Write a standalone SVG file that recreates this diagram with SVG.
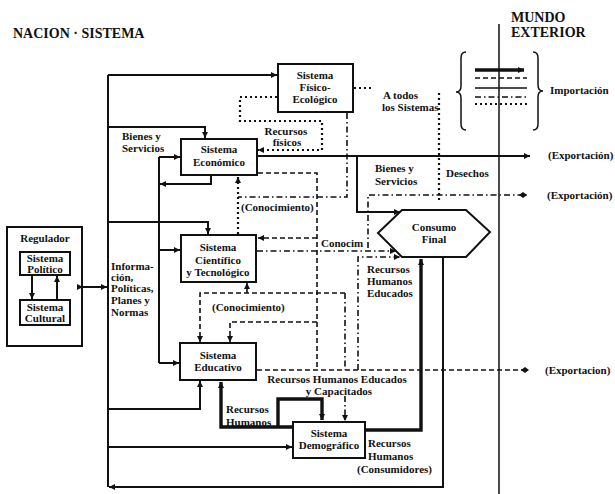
<svg xmlns="http://www.w3.org/2000/svg" width="615" height="494" viewBox="0 0 615 494">
  <defs>
    <style>
      .t { font-family: "Liberation Serif", "Times New Roman", serif; font-weight: bold; font-size: 11px; fill: #111; }
      .c { text-anchor: middle; }
      .title { font-size: 14px; }
      .box { fill: #fff; stroke: #111; stroke-width: 2; }
      .s { fill: none; stroke: #111; stroke-width: 2; }
      .thin { fill: none; stroke: #111; stroke-width: 1.5; }
      .thk { fill: none; stroke: #111; stroke-width: 3.4; }
      .d { fill: none; stroke: #111; stroke-width: 1.6; stroke-dasharray: 5 3; }
      .dd { fill: none; stroke: #111; stroke-width: 1.6; stroke-dasharray: 6 3 1.5 3; }
      .dt { fill: none; stroke: #111; stroke-width: 2.2; stroke-dasharray: 2 3; }
    </style>
    <marker id="arr" viewBox="0 0 6 6" refX="6" refY="3" markerWidth="6" markerHeight="6" markerUnits="userSpaceOnUse" orient="auto">
      <path d="M0,0 L6,3 L0,6 z" fill="#111"/>
    </marker>
    <marker id="dia" viewBox="0 0 8 6" refX="8" refY="3" markerWidth="8" markerHeight="6" markerUnits="userSpaceOnUse" orient="auto">
      <path d="M0,3 L4,0 L8,3 L4,6 z" fill="#111"/>
    </marker>
  </defs>

  <rect width="615" height="494" fill="#fff"/>

  <!-- headings -->
  <text class="t title" x="13" y="38">NACION · SISTEMA</text>
  <text class="t title" x="511" y="22">MUNDO</text>
  <text class="t title" x="511" y="37">EXTERIOR</text>

  <!-- boundary between the nation and the outside world -->
  <line class="thin" x1="499" y1="24" x2="499" y2="494"/>

  <!-- import legend -->
  <g id="importacion">
    <path class="thin" d="M466,52 Q461,52 461,58 L461,86 Q461,92 456,92 Q461,92 461,98 L461,124 Q461,130 466,130"/>
    <path class="thin" d="M533,52 Q538,52 538,58 L538,85 Q538,91 543,91 Q538,91 538,97 L538,124 Q538,130 533,130"/>
    <line class="thk" x1="475" y1="70" x2="524" y2="70" marker-end="url(#arr)"/>
    <line class="d" x1="475" y1="78" x2="527" y2="78"/>
    <line class="thin" x1="475" y1="88" x2="527" y2="88"/>
    <line class="dd" x1="475" y1="97" x2="527" y2="97"/>
    <line class="dt" x1="475" y1="104" x2="527" y2="104"/>
    <text class="t" x="550" y="94">Importación</text>
  </g>

  <!-- regulator frame (its inner systems are drawn above the connectors) -->
  <g id="regulador">
    <rect class="box" x="7" y="227" width="75" height="119"/>
    <text class="t c" x="45" y="242">Regulador</text>
  </g>

  <!-- connectors -->
  <g id="connectors">
    <!-- information bus of the regulator -->
    <line class="s" x1="108" y1="75" x2="108" y2="487"/>
    <line class="s" x1="159" y1="157" x2="159" y2="363"/>
    <path class="s" d="M83,287 H107" marker-start="url(#arr)" marker-end="url(#arr)"/>
    <path class="s" d="M108,75 H277" marker-end="url(#arr)"/>
    <path class="s" d="M108,127 H205 V138" marker-end="url(#arr)"/>
    <path class="s" d="M159,157 H180" marker-end="url(#arr)"/>
    <path class="s" d="M211,176 V184 H160" marker-end="url(#arr)"/>
    <path class="s" d="M108,222 H208 V234" marker-end="url(#arr)"/>
    <path class="s" d="M159,250 H180" marker-end="url(#arr)"/>
    <path class="s" d="M159,363 H179" marker-end="url(#arr)"/>
    <path class="s" d="M108,409 H200 V381" marker-end="url(#arr)"/>
    <path class="s" d="M108,447 H292" marker-end="url(#arr)"/>
    <path class="s" d="M443,258 V487 H109" marker-end="url(#arr)"/>

    <!-- regulator internals -->
    <path class="s" d="M32,275 V299" marker-end="url(#arr)"/>
    <path class="s" d="M57,300 V276" marker-end="url(#arr)"/>

    <!-- goods and services -->
    <path class="s" d="M258,156 H530" marker-end="url(#arr)"/>
    <path class="s" d="M357,156 V212 H400" marker-end="url(#arr)"/>

    <!-- physical resources -->
    <path class="dt" d="M277,97 H240 V121 H322 V150 H258" marker-end="url(#arr)"/>
    <path class="dt" d="M354,88 H372"/>
    <path class="dt" d="M439,93 V200"/>
    <path class="dd" d="M347,113 V197 H238"/>
    <path class="dt" d="M238,234 V177" marker-end="url(#arr)"/>

    <!-- knowledge -->
    <path class="d" d="M258,173 H317 V370"/>
    <path class="d" d="M317,238 H258" marker-end="url(#arr)"/>
    <path class="dd" d="M257,251 H396" marker-end="url(#arr)"/>
    <path class="dd" d="M368,248 V195 H527" marker-end="url(#dia)"/>
    <path class="d" d="M345,293 H200 V342" marker-end="url(#arr)"/>
    <path class="d" d="M247,293 V283" marker-end="url(#arr)"/>
    <path class="d" d="M317,322 H230 V342" marker-end="url(#arr)"/>

    <!-- educated human resources -->
    <path class="d" d="M257,370 H529" marker-end="url(#dia)"/>
    <path class="dd" d="M345,293 V370"/>
    <path class="dd" d="M345,396 V421" marker-end="url(#arr)"/>
    <path class="dd" d="M358,370 V257 H400" marker-end="url(#arr)"/>

    <!-- human resources -->
    <path class="thk" d="M293,427 H221 V382" marker-end="url(#arr)"/>
    <path class="thk" d="M278,427 V399 H322 V420" marker-end="url(#arr)"/>
    <path class="thk" d="M366,430 H421 V259" marker-end="url(#arr)"/>
  </g>

  <!-- systems -->
  <g id="sistema-politico">
    <rect class="box" x="20" y="252" width="50" height="23"/>
    <text class="t c" x="45" y="262">Sistema</text>
    <text class="t c" x="45" y="273">Político</text>
  </g>
  <g id="sistema-cultural">
    <rect class="box" x="20" y="300" width="50" height="25"/>
    <text class="t c" x="45" y="311">Sistema</text>
    <text class="t c" x="45" y="322">Cultural</text>
  </g>
  <g id="sistema-fisico">
    <rect class="box" x="278" y="64" width="75" height="48"/>
    <text class="t c" x="315" y="79">Sistema</text>
    <text class="t c" x="315" y="91">Físico-</text>
    <text class="t c" x="315" y="103">Ecológico</text>
  </g>
  <g id="sistema-economico">
    <rect class="box" x="181" y="139" width="76" height="36"/>
    <text class="t c" x="219" y="153">Sistema</text>
    <text class="t c" x="219" y="166">Económico</text>
  </g>
  <g id="sistema-cientifico">
    <rect class="box" x="181" y="235" width="75" height="47"/>
    <text class="t c" x="218" y="251">Sistema</text>
    <text class="t c" x="218" y="264">Científico</text>
    <text class="t c" x="218" y="276">y Tecnológico</text>
  </g>
  <g id="sistema-educativo">
    <rect class="box" x="180" y="343" width="76" height="37"/>
    <text class="t c" x="218" y="359">Sistema</text>
    <text class="t c" x="218" y="371">Educativo</text>
  </g>
  <g id="sistema-demografico">
    <rect class="box" x="293" y="422" width="72" height="36"/>
    <text class="t c" x="329" y="437">Sistema</text>
    <text class="t c" x="329" y="449">Demográfico</text>
  </g>
  <g id="consumo-final">
    <polygon class="box" points="378,233 402,210 466,210 490,232 466,257 402,257"/>
    <text class="t c" x="434" y="231">Consumo</text>
    <text class="t c" x="434" y="243">Final</text>
  </g>

  <!-- flow labels -->
  <g id="labels">
    <text class="t" x="111" y="270">Informa-</text>
    <text class="t" x="111" y="281">ción,</text>
    <text class="t" x="111" y="292">Políticas,</text>
    <text class="t" x="111" y="304">Planes y</text>
    <text class="t" x="111" y="316">Normas</text>

    <text class="t" x="122" y="140">Bienes y</text>
    <text class="t" x="122" y="152">Servicios</text>

    <text class="t c" x="286" y="135">Recursos</text>
    <text class="t c" x="287" y="146">físicos</text>

    <text class="t" x="383" y="99">A todos</text>
    <text class="t" x="382" y="111">los Sistemas</text>

    <text class="t" x="375" y="172">Bienes y</text>
    <text class="t" x="375" y="185">Servicios</text>
    <text class="t" x="446" y="177">Desechos</text>

    <text class="t" x="548" y="159">(Exportación)</text>
    <text class="t" x="547" y="199">(Exportación)</text>
    <text class="t" x="545" y="374">(Exportacion)</text>

    <text class="t" x="241" y="211">(Conocimiento)</text>
    <text class="t" x="321" y="247">Conocim</text>
    <text class="t" x="212" y="311">(Conocimiento)</text>

    <text class="t" x="367" y="273">Recursos</text>
    <text class="t" x="367" y="285">Humanos</text>
    <text class="t" x="367" y="297">Educados</text>

    <text class="t c" x="337" y="383">Recursos Humanos Educados</text>
    <text class="t c" x="339" y="395">y Capacitados</text>

    <text class="t" x="226" y="413">Recursos</text>
    <text class="t" x="226" y="426">Humanos</text>

    <text class="t" x="368" y="447">Recursos</text>
    <text class="t" x="368" y="460">Humanos</text>
    <text class="t" x="357" y="473">(Consumidores)</text>
  </g>
</svg>
